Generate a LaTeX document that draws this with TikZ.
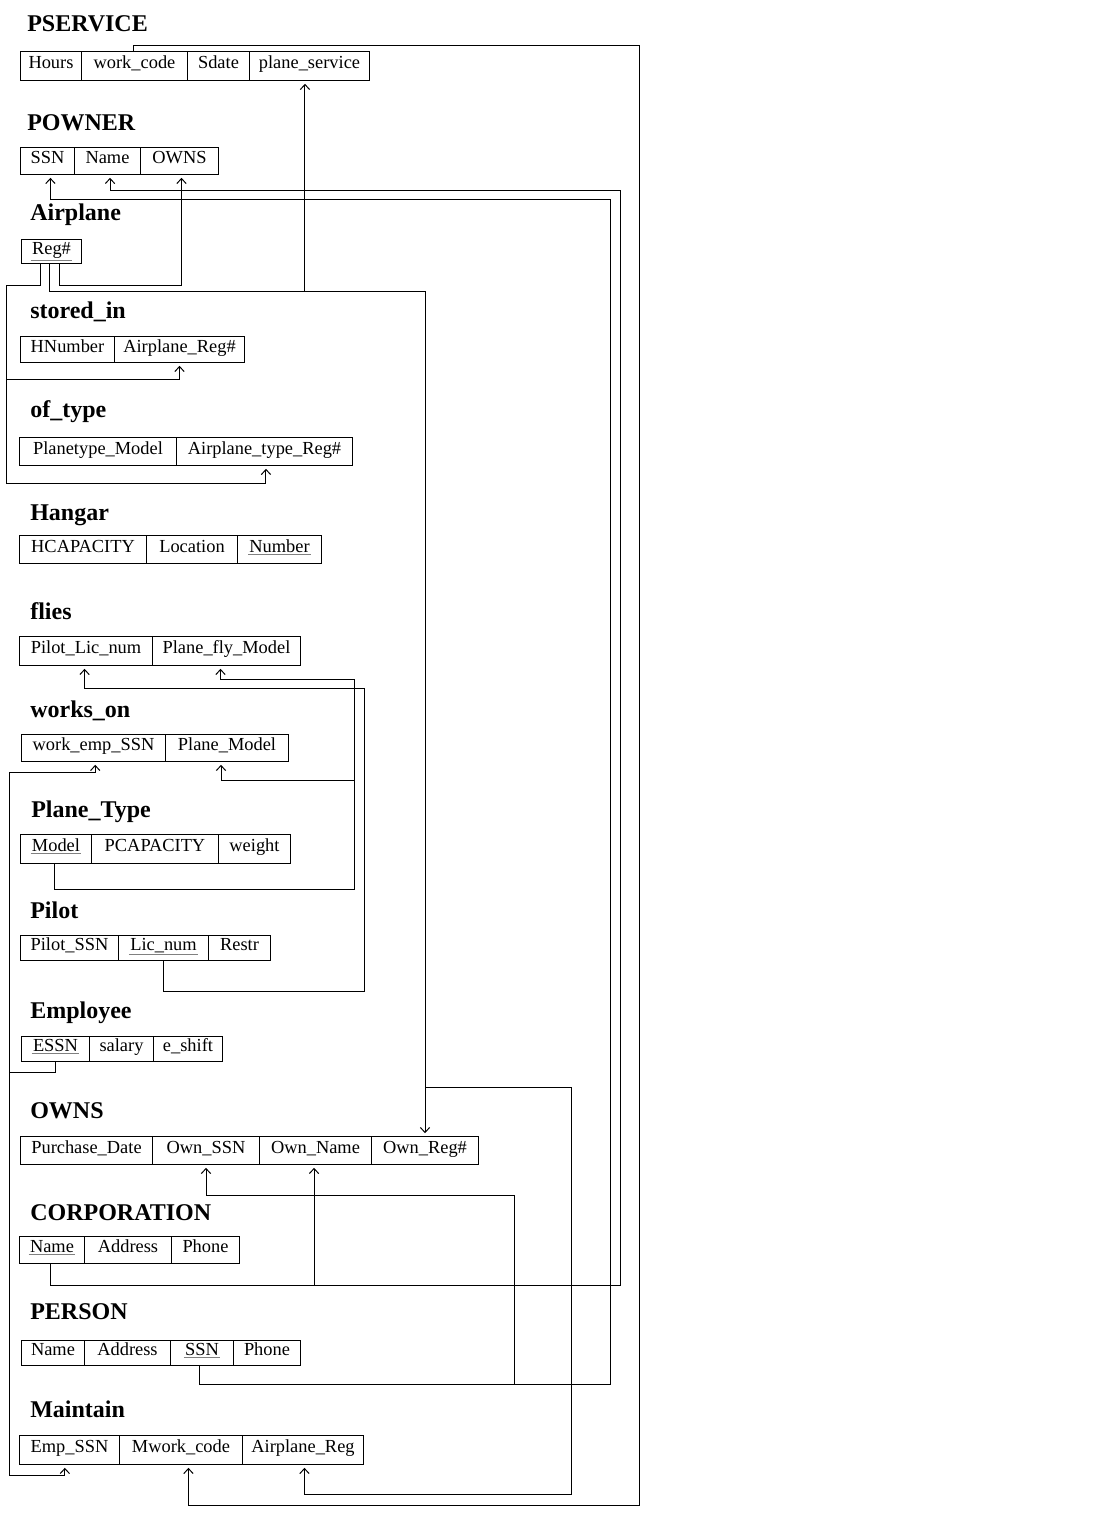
\documentclass[tikz,border=0pt]{standalone}
\usepackage{fontspec}
\setmainfont{Liberation Serif}
\usetikzlibrary{positioning,arrows.meta}
\newcommand{\pk}[1]{{\color{gray}\underline{\color{black}\kern1pt#1\kern1pt}}}
\tikzset{
  rel/.style={anchor=base west, inner sep=0pt, font=\fontsize{18}{21}\selectfont\bfseries},
  cell/.style 2 args={draw, line width=0.8pt, inner sep=0pt, outer sep=0pt,
    minimum width=#1*0.75pt, minimum height=#2*0.75pt,
    text height=9pt, text depth=5.25pt, font=\fontsize{13.8}{16}\selectfont},
  fk/.style={line width=0.75pt, shorten >=2.5pt, -{Straight Barb[length=3.75pt,width=7pt]}},
}
\begin{document}
\begin{tikzpicture}[x=0.75pt, y=-0.75pt]
\useasboundingbox (0,0) rectangle (1093,1516);

\node[rel] (tps) at (27,32) {PSERVICE};
\node[cell={61}{29}, anchor=north west] (ps1) at (20.5,51.5) {Hours};
\node[cell={106}{29}, right=0pt of ps1] (ps2) {work\_code};
\node[cell={62}{29}, right=0pt of ps2] (ps3) {Sdate};
\node[cell={120}{29}, right=0pt of ps3] (ps4) {plane\_service};

\node[rel] (tpo) at (27,131) {POWNER};
\node[cell={54}{27}, anchor=north west] (po1) at (20.5,147.5) {SSN};
\node[cell={66}{27}, right=0pt of po1] (po2) {Name};
\node[cell={78}{27}, right=0pt of po2] (po3) {OWNS};

\node[rel] (tap) at (30,220) {Airplane};
\node[cell={60}{24}, anchor=north west] (ap1) at (21.5,239.5) {\pk{Reg\#}};

\node[rel] (tsi) at (30,318) {stored\_in};
\node[cell={94}{26}, anchor=north west] (si1) at (20.5,336.5) {HNumber};
\node[cell={130}{26}, right=0pt of si1] (si2) {Airplane\_Reg\#};

\node[rel] (tot) at (30,417) {of\_type};
\node[cell={157}{28}, anchor=north west] (ot1) at (19.5,437.5) {Planetype\_Model};
\node[cell={176}{28}, right=0pt of ot1] (ot2) {Airplane\_type\_Reg\#};

\node[rel] (thg) at (30,520) {Hangar};
\node[cell={127}{28}, anchor=north west] (hg1) at (19.5,535.5) {HCAPACITY};
\node[cell={91}{28}, right=0pt of hg1] (hg2) {Location};
\node[cell={84}{28}, right=0pt of hg2] (hg3) {\pk{Number}};

\node[rel] (tfl) at (30,619) {flies};
\node[cell={133}{29}, anchor=north west] (fl1) at (19.5,636.5) {Pilot\_Lic\_num};
\node[cell={148}{29}, right=0pt of fl1] (fl2) {Plane\_fly\_Model};

\node[rel] (two) at (30,717) {works\_on};
\node[cell={144}{27}, anchor=north west] (wo1) at (21.5,734.5) {work\_emp\_SSN};
\node[cell={123}{27}, right=0pt of wo1] (wo2) {Plane\_Model};

\node[rel] (tpt) at (31,817) {Plane\_Type};
\node[cell={71}{29}, anchor=north west] (pt1) at (20.5,834.5) {\pk{Model}};
\node[cell={127}{29}, right=0pt of pt1] (pt2) {PCAPACITY};
\node[cell={72}{29}, right=0pt of pt2] (pt3) {weight};

\node[rel] (tpi) at (30,918) {Pilot};
\node[cell={98}{25}, anchor=north west] (pi1) at (20.5,935.5) {Pilot\_SSN};
\node[cell={90}{25}, right=0pt of pi1] (pi2) {\pk{Lic\_num}};
\node[cell={62}{25}, right=0pt of pi2] (pi3) {Restr};

\node[rel] (tem) at (30,1018) {Employee};
\node[cell={68}{25}, anchor=north west] (em1) at (21.5,1036.5) {\pk{ESSN}};
\node[cell={64}{25}, right=0pt of em1] (em2) {salary};
\node[cell={69}{25}, right=0pt of em2] (em3) {e\_shift};

\node[rel] (tow) at (30,1118) {OWNS};
\node[cell={132}{28}, anchor=north west] (ow1) at (20.5,1136.5) {Purchase\_Date};
\node[cell={107}{28}, right=0pt of ow1] (ow2) {Own\_SSN};
\node[cell={112}{28}, right=0pt of ow2] (ow3) {Own\_Name};
\node[cell={107}{28}, right=0pt of ow3] (ow4) {Own\_Reg\#};

\node[rel] (tco) at (30,1220) {CORPORATION};
\node[cell={65}{27}, anchor=north west] (co1) at (19.5,1236.5) {\pk{Name}};
\node[cell={87}{27}, right=0pt of co1] (co2) {Address};
\node[cell={68}{27}, right=0pt of co2] (co3) {Phone};

\node[rel] (tpe) at (30,1319) {PERSON};
\node[cell={63}{25}, anchor=north west] (pe1) at (21.5,1340.5) {Name};
\node[cell={86}{25}, right=0pt of pe1] (pe2) {Address};
\node[cell={63}{25}, right=0pt of pe2] (pe3) {\pk{SSN}};
\node[cell={67}{25}, right=0pt of pe3] (pe4) {Phone};

\node[rel] (tma) at (30,1417) {Maintain};
\node[cell={100}{29}, anchor=north west] (ma1) at (19.5,1435.5) {Emp\_SSN};
\node[cell={123}{29}, right=0pt of ma1] (ma2) {Mwork\_code};
\node[cell={121}{29}, right=0pt of ma2] (ma3) {Airplane\_Reg};

\draw[fk] ([xshift=-1.1pt]ps2.north) |- (639.5,45.5) -- (639.5,1505.5) -| ([xshift=5.6pt]ma2.south);
\draw[fk] ([xshift=-1.4pt]ap1.south) -- ++(0,28) -| ([xshift=-3.4pt]ps4.south);
\draw[fk] ([xshift=-1.4pt]ap1.south) -- ++(0,28) -| (ow4.north);
\draw[fk] ([xshift=-1.4pt]ap1.south) -- ++(0,28) -| (425,1087.5) -| (571.5,1494.5) -| ([xshift=1.1pt]ma3.south);
\draw[fk] ([xshift=-8.2pt]ap1.south) |- (6.5,285.5) -- (6.5,379.5) -| (si2.south);
\draw[fk] ([xshift=-8.2pt]ap1.south) |- (6.5,285.5) -- (6.5,483.5) -| ([xshift=1.1pt]ot2.south);
\draw[fk] ([xshift=6.1pt]ap1.south) |- (120,285.5) -| ([xshift=1.5pt]po3.south);
\draw[fk] ([xshift=-2.1pt]pe3.south) |- (610.5,1384.5) -- (610.5,199.5) -| ([xshift=2.2pt]po1.south);
\draw[fk] ([xshift=-2.1pt]pe3.south) |- (514.5,1384.5) -- (514.5,1195.5) -| (ow2.south);
\draw[fk] ([xshift=-1.1pt]co1.south) |- (620.5,1285.5) -- (620.5,190.5) -| ([xshift=1.9pt]po2.south);
\draw[fk] ([xshift=-1.1pt]co1.south) -- ++(0,22) -| ([xshift=-1.1pt]ow3.south);
\draw[fk] ([xshift=-1.4pt]pt1.south) |- (354.5,889.5) -- (354.5,679.5) -| ([xshift=-4.5pt]fl2.south);
\draw[fk] ([xshift=-1.4pt]pt1.south) |- (354.5,889.5) -- (354.5,780.5) -| ([xshift=-4.5pt]wo2.south);
\draw[fk] (pi2.south) |- (364.5,991.5) -- (364.5,688.5) -| ([xshift=-1.1pt]fl1.south);
\draw[fk] (em1.south) |- (9.5,1072.5) -- (9.5,772.5) -| ([xshift=1.3pt]wo1.south);
\draw[fk] (em1.south) |- (9.5,1072.5) -- (9.5,1475.5) -| ([xshift=-3.5pt]ma1.south);

\end{tikzpicture}
\end{document}
